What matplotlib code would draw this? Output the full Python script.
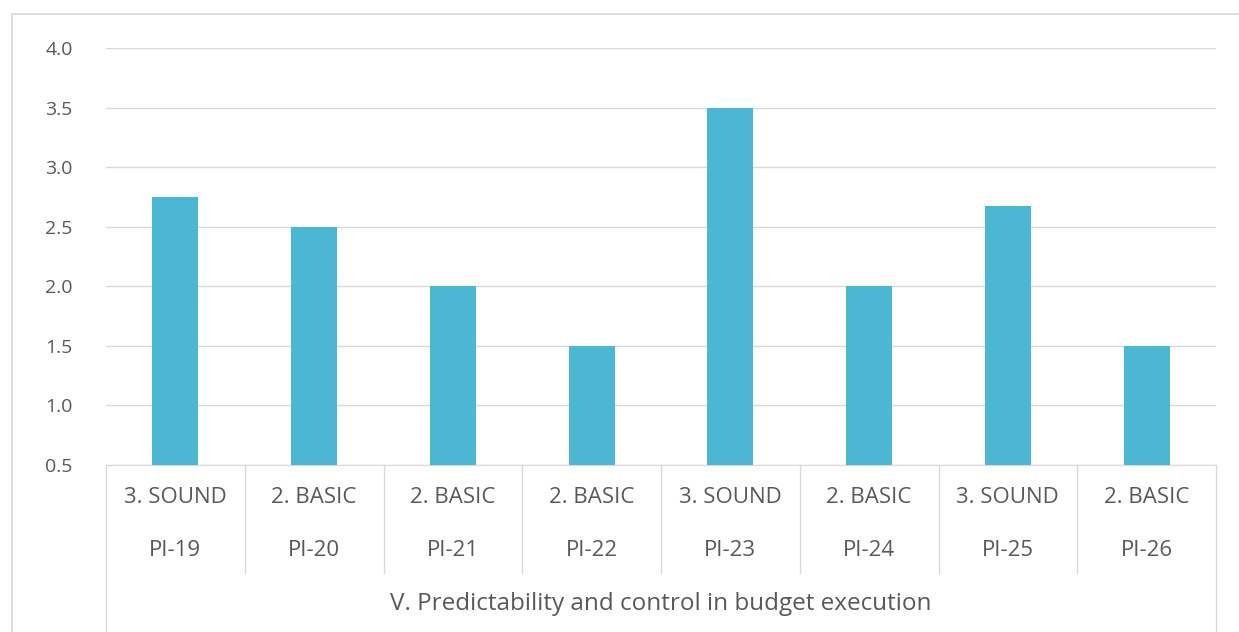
import matplotlib.pyplot as plt
from matplotlib.patches import Rectangle
import matplotlib.transforms as mtransforms

plt.rcParams['font.family'] = ['Open Sans', 'DejaVu Sans']

indicators = ["PI-19", "PI-20", "PI-21", "PI-22", "PI-23", "PI-24", "PI-25", "PI-26"]
ratings = ["3. SOUND", "2. BASIC", "2. BASIC", "2. BASIC", "3. SOUND", "2. BASIC", "3. SOUND", "2. BASIC"]
scores = [2.75, 2.5, 2.0, 1.5, 3.5, 2.0, 2.67, 1.5]
group_label = "V. Predictability and control in budget execution"
yticks = [0.5, 1.0, 1.5, 2.0, 2.5, 3.0, 3.5, 4.0]

W, H = 1239, 632
fig = plt.figure(figsize=(W / 100, H / 100), dpi=100)

# outer chart border (cut by the image edge on the right and bottom)
fig.patches.append(Rectangle((12 / W, -0.1), 1.2, 1 - 14 / H + 0.1, transform=fig.transFigure,
                             fill=False, edgecolor="#d9d9d9", linewidth=1.2))

ax = fig.add_axes([106 / W, 1 - 465 / H, (1216 - 106) / W, (465 - 48) / H])
x = list(range(len(scores)))
ax.bar(x, scores, width=0.33, color="#4bb7d2", zorder=3)
ax.set_xlim(-0.5, len(scores) - 0.5)
ax.set_ylim(0.5, 4.0)
ax.set_yticks(yticks)
ax.set_yticklabels([f"{t:.1f}" for t in yticks])
ax.tick_params(axis="y", length=0, pad=24, labelsize=14, labelcolor="#595959")
ax.set_xticks([])
for s in ["top", "right", "left"]:
    ax.spines[s].set_visible(False)
ax.spines["bottom"].set_color("#d9d9d9")
ax.grid(axis="y", color="#d9d9d9", linewidth=1)
ax.set_axisbelow(True)

trans = mtransforms.blended_transform_factory(ax.transData, ax.transAxes)
for i in x:
    ax.text(i, -0.077, ratings[i], transform=trans, ha="center", va="center",
            fontsize=16, color="#595959")
    ax.text(i, -0.206, indicators[i], transform=trans, ha="center", va="center",
            fontsize=16, color="#595959")

# separators of the category table
n = len(scores)
for k in range(n + 1):
    xb = k - 0.5
    y_end = -0.45 if k in (0, n) else -0.259
    ax.plot([xb, xb], [0, y_end], transform=trans, color="#d9d9d9", linewidth=1, clip_on=False)

ax.text((n - 1) / 2, -0.333, group_label, transform=trans, ha="center", va="center",
        fontsize=17.5, color="#595959")

fig.savefig("out.png", dpi=100)
